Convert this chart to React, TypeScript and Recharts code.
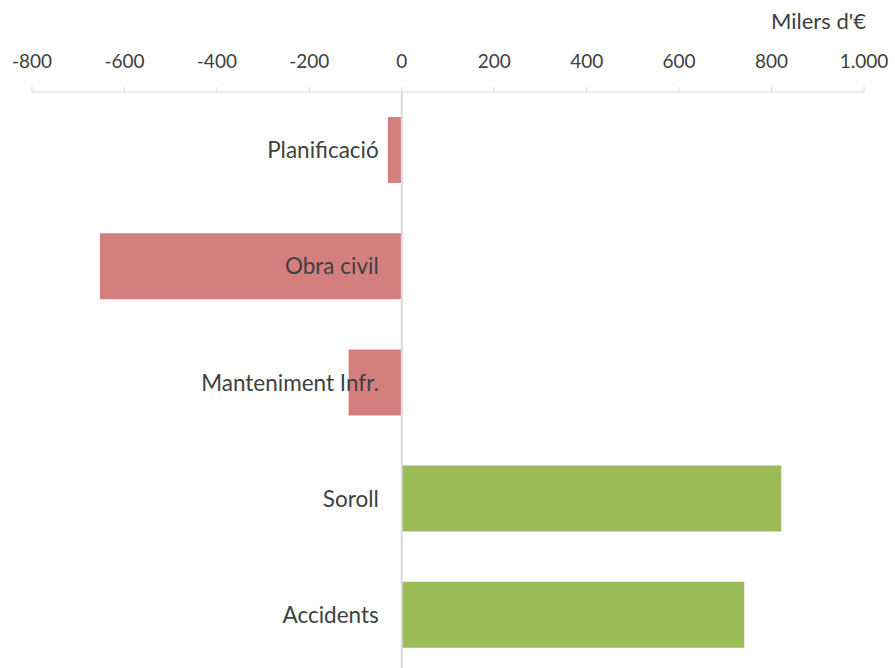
import { BarChart, Bar, Cell, XAxis, YAxis, ReferenceLine, LabelList } from 'recharts';

const categories = ['Planificació', 'Obra civil', 'Manteniment Infr.', 'Soroll', 'Accidents'];
const values = [-30, -653, -115, 821, 741];
const xTicks = [-800, -600, -400, -200, 0, 200, 400, 600, 800, 1000];

const negColor = '#d27f7e';
const posColor = '#9bbb59';
const textColor = '#404040';
const gridColor = '#d9d9d9';

const data = categories.map((name, i) => ({ name, value: values[i] }));

const chartWidth = 895;
const chartHeight = 673;
const margin = { top: 2, right: 31, bottom: 0, left: 32 };
const domainMin = xTicks[0];
const domainMax = xTicks[xTicks.length - 1];
// x position of the zero line, used to hang the category labels off it
const zeroX =
  margin.left +
  ((chartWidth - margin.left - margin.right) * (0 - domainMin)) / (domainMax - domainMin);

const formatThousands = (v: number) =>
  String(v).replace(/\B(?=(\d{3})+(?!\d))/g, '.');

const CategoryLabel = (props: any) => {
  const { y, height, value } = props;
  return (
    <text
      x={zeroX - 23}
      y={Number(y) + Number(height) / 2}
      dy="0.36em"
      textAnchor="end"
      fill={textColor}
      fontSize={22.5}
      fontFamily="Lato, sans-serif"
    >
      {value}
    </text>
  );
};

const App = () => (
  <div
    style={{
      position: 'absolute',
      left: 0,
      top: 0,
      width: 895,
      height: 668,
      overflow: 'hidden',
      background: '#fff',
      fontFamily: 'Lato, sans-serif'
    }}
  >
    <div
      style={{
        position: 'absolute',
        right: 29,
        top: 7,
        fontSize: 22,
        color: textColor
      }}
    >
      Milers d'€
    </div>
    <BarChart
      width={chartWidth}
      height={chartHeight}
      data={data}
      layout="vertical"
      margin={margin}
    >
      <XAxis
        type="number"
        orientation="top"
        domain={[domainMin, domainMax]}
        ticks={xTicks}
        tickFormatter={formatThousands}
        height={90}
        interval={0}
        stroke={gridColor}
        tickSize={5}
        tickMargin={19}
        tick={{ fill: textColor, fontSize: 19, fontFamily: 'Lato, sans-serif' }}
      />
      <YAxis type="category" dataKey="name" width={0} hide />
      <Bar dataKey="value" barSize={66} isAnimationActive={false}>
        {data.map((entry, index) => (
          <Cell key={`cell-${index}`} fill={entry.value < 0 ? negColor : posColor} />
        ))}
        <LabelList dataKey="name" content={<CategoryLabel />} />
      </Bar>
      <ReferenceLine x={0} stroke={gridColor} strokeWidth={2} />
    </BarChart>
  </div>
);

export default App;
